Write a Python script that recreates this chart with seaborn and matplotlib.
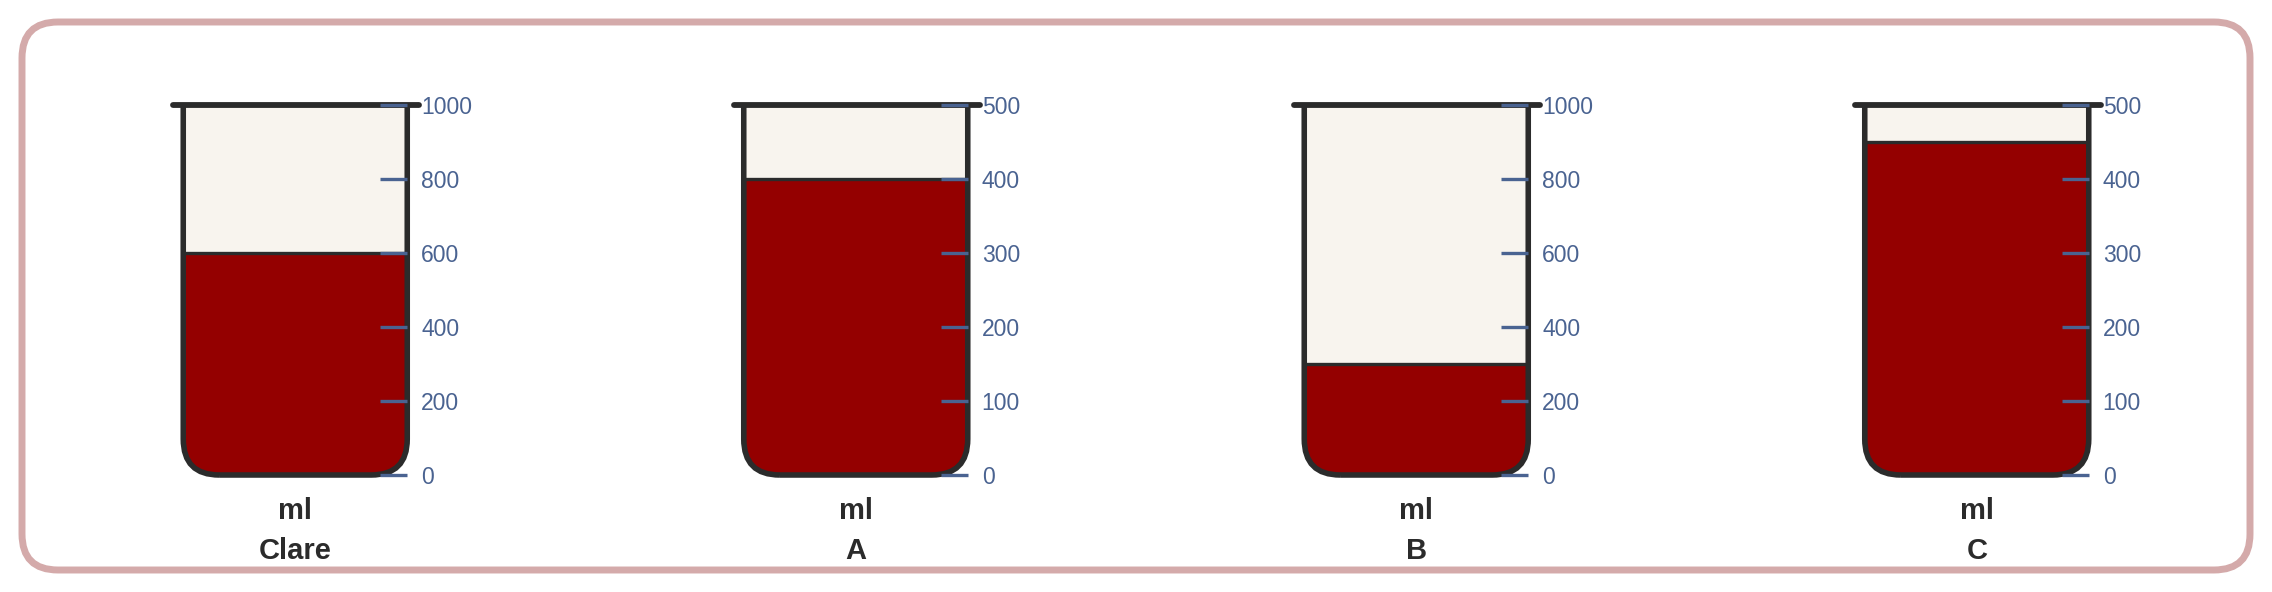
import matplotlib
matplotlib.use("Agg")
import matplotlib.pyplot as plt
from matplotlib.patches import FancyBboxPatch, Rectangle
import seaborn as sns

# beaker data
names = ["Clare", "A", "B", "C"]
capacity = [1000, 500, 1000, 500]
volume = [600, 400, 300, 450]
unit = "ml"

liquid_color = "#940000"
empty_color = "#f8f4ee"
glass_color = "#2b2b2b"
scale_color = "#4a6391"
border_color = "#d4aaaa"

sns.set_theme(style="white")
plt.rcParams["font.family"] = ["Liberation Sans", "DejaVu Sans"]

W, H, DPI = 2272, 592, 100
fig = plt.figure(figsize=(W / DPI, H / DPI), dpi=DPI)
fig.patch.set_facecolor("white")

# rounded frame round the whole chart
frame = FancyBboxPatch((22 / W, 22 / H), (W - 44) / W, (H - 44) / H,
                       boxstyle=f"round,pad=0,rounding_size={36 / W}",
                       mutation_aspect=W / H, transform=fig.transFigure,
                       facecolor="none", edgecolor=border_color,
                       linewidth=5, zorder=-1)
fig.add_artist(frame)

panel_w = (W - 30) / len(names)
glass_w, glass_h = 224, 370   # pixels, wall to wall / bottom to rim
base_y = 117
radius = 36

for i, (name, cap, vol) in enumerate(zip(names, capacity, volume)):
    cx = 15 + panel_w * (i + 0.5)
    ax = fig.add_axes([(cx - glass_w / 2) / W, base_y / H, glass_w / W, glass_h / H])

    # empty part and liquid
    sns.barplot(x=[name], y=[cap], color=empty_color, width=1, saturation=1,
                errorbar=None, linewidth=0, ax=ax)
    sns.barplot(x=[name], y=[vol], color=liquid_color, width=1, saturation=1,
                errorbar=None, edgecolor=glass_color, linewidth=2.4, ax=ax)
    bars = list(ax.patches)

    # rounded bottom of the glass
    rx = radius / glass_w
    aspect = (radius * cap / glass_h) / rx
    shape = dict(boxstyle=f"round,pad=0,rounding_size={rx}",
                 mutation_aspect=aspect, transform=ax.transData)
    clip = FancyBboxPatch((-0.5, 0), 1, cap * 1.5, facecolor="none",
                          edgecolor="none", **shape)
    for bar in bars:
        bar.set_clip_path(clip)

    # walls: open at the top, so cut the outline at the rim
    glass = FancyBboxPatch((-0.5, 0), 1, cap * 1.5, facecolor="none",
                           edgecolor=glass_color, linewidth=4, zorder=2, **shape)
    ax.add_patch(glass)
    cut = Rectangle((-1, -cap), 2, 2 * cap, transform=ax.transData)
    glass.set_clip_path(cut)
    ax.plot([-0.5 - 10 / glass_w, 0.5 + 12 / glass_w], [cap, cap],
            color=glass_color, lw=4.2, solid_capstyle="round",
            clip_on=False, zorder=2.2)

    ax.set_xlim(-0.5, 0.5)
    ax.set_ylim(0, cap)

    # scale
    ax.yaxis.tick_right()
    ax.set_yticks(range(0, cap + 1, cap // 5))
    ax.tick_params(axis="y", direction="in", length=19.5, width=2.4,
                   color=scale_color, labelcolor=scale_color,
                   labelsize=16.5, pad=10)
    ax.set_xticks([])
    ax.set_xlabel("")
    ax.set_ylabel("")
    sns.despine(ax=ax, left=True, bottom=True, right=True, top=True)
    ax.set_axisbelow(False)
    ax.patch.set_alpha(0)

    ax.annotate(unit, xy=(0, 0), xycoords=("data", "axes fraction"),
                xytext=(0, -44), textcoords="offset pixels", ha="center",
                va="baseline", fontsize=21, fontweight="bold",
                color=glass_color, annotation_clip=False)
    ax.annotate(name, xy=(0, 0), xycoords=("data", "axes fraction"),
                xytext=(0, -84), textcoords="offset pixels", ha="center",
                va="baseline", fontsize=21, fontweight="bold",
                color=glass_color, annotation_clip=False)

fig.savefig("out.png", dpi=DPI)
